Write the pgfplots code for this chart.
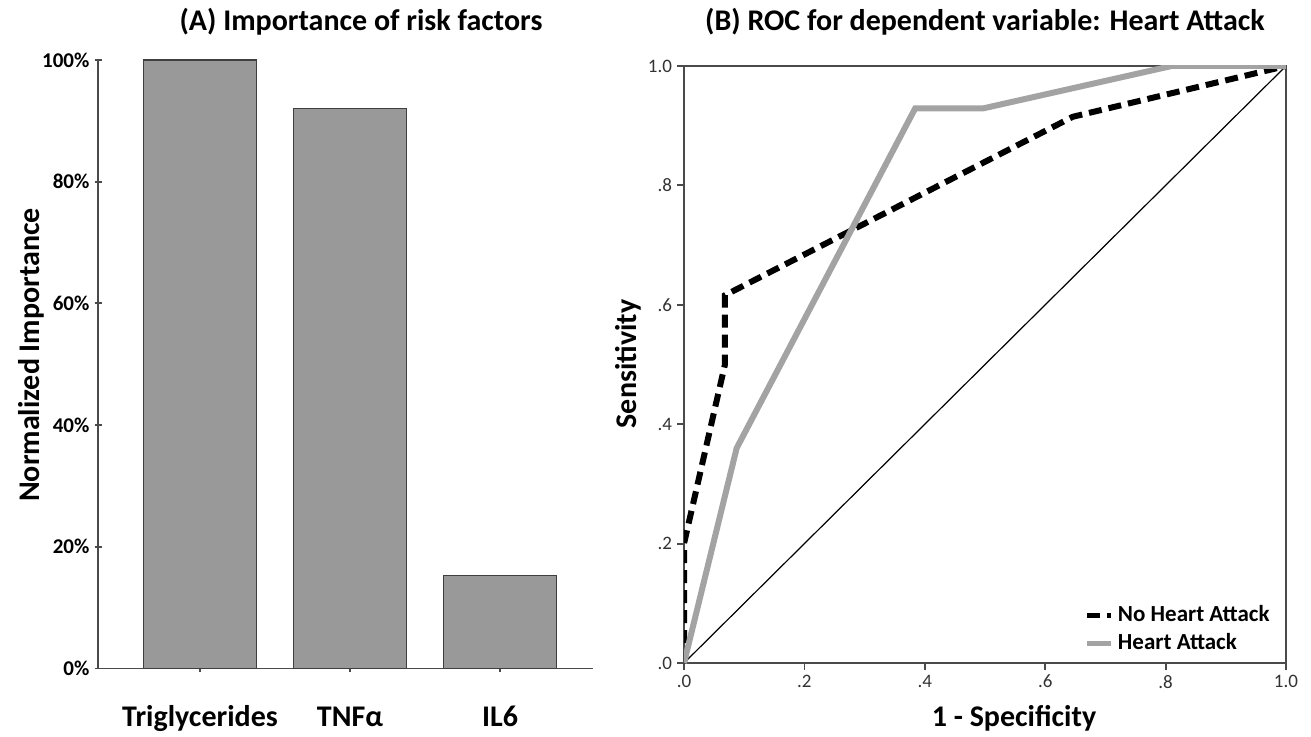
\documentclass[border=0pt]{standalone}
\usepackage{fontspec}
\setmainfont{Carlito}
\usepackage{pgfplots}
\pgfplotsset{compat=1.18}

\definecolor{barfill}{HTML}{999999}
\definecolor{bardraw}{HTML}{3F3F3F}
\definecolor{axisgray}{HTML}{4A4A4A}
\definecolor{rocgray}{HTML}{A3A3A3}
\definecolor{ticktext}{HTML}{333333}

% 1 px of the reference = 0.5pt
\begin{document}
\begin{tikzpicture}
\pgfplotsset{
  every axis/.append style={
    scale only axis,
    tick align=outside,
    major tick length=3.5pt,
    tick style={draw=axisgray, line width=0.9pt},
    /pgf/number format/assume math mode=true,
  },
}

% (A) bar chart
\begin{axis}[
  at={(49pt,-334.25pt)}, anchor=south west,
  width=247.5pt, height=304.25pt,
  xmin=-0.68, xmax=2.62, ymin=0, ymax=100,
  axis x line=bottom, axis y line=left,
  axis line style={-, draw=axisgray, line width=0.9pt},
  xtick={0,1,2},
  xticklabels={Triglycerides, TNFα, IL6},
  ytick={0,20,40,60,80,100},
  yticklabels={0\%,20\%,40\%,60\%,80\%,100\%},
  xticklabel style={font=\fontsize{15}{18}\selectfont\bfseries,
    text height=11pt, text depth=3pt, yshift=-12.5pt},
  yticklabel style={font=\fontsize{10.5}{12}\selectfont\bfseries, xshift=1pt},
]
\addplot[ybar, bar width=56.5pt, fill=barfill, draw=bardraw, line width=0.8pt]
  coordinates {(0,100) (1,92) (2,15.3)};
\end{axis}

% (B) ROC curves
\begin{axis}[
  at={(342pt,-331.5pt)}, anchor=south west,
  width=301pt, height=298.5pt,
  xmin=0, xmax=1, ymin=0, ymax=1,
  axis line style={draw=axisgray, line width=0.9pt},
  xtick pos=bottom, ytick pos=left,
  xtick={0,0.2,0.4,0.6,0.8,1}, xticklabels={.0,.2,.4,.6,.8,1.0},
  ytick={0,0.2,0.4,0.6,0.8,1}, yticklabels={.0,.2,.4,.6,.8,1.0},
  ticklabel style={font=\fontsize{9.5}{10}\selectfont, text=ticktext},
  xticklabel style={yshift=1pt},
  yticklabel style={xshift=1pt},
  legend style={draw=none, fill=none, at={(0.99,0.003)}, anchor=south east,
    font=\fontsize{11.5}{13}\selectfont\bfseries, row sep=0.5pt},
  legend cell align=left,
  legend image code/.code={\draw[#1, line width=2.6pt] (0pt,0pt) -- (12pt,0pt);},
]
\addplot[black, line width=0.6pt, forget plot] coordinates {(0,0) (1,1)};
\addplot[black, line width=3pt, dash pattern=on 6.5pt off 3.5pt]
  coordinates {(0,0) (0,0.2) (0.068,0.5) (0.068,0.616) (0.646,0.915) (1,1)};
\addlegendentry{No Heart Attack}
\addplot[rocgray, line width=3pt]
  coordinates {(0,0) (0.0875,0.36) (0.384,0.929) (0.497,0.929) (0.81,1) (1,1)};
\addlegendentry{Heart Attack}
\end{axis}

\node[font=\fontsize{15}{18}\selectfont\bfseries] at (180.5pt,-11pt) {(A) Importance of risk factors};
\node[font=\fontsize{15}{18}\selectfont\bfseries] at (492.5pt,-11pt) {(B) ROC for dependent variable: Heart Attack};
\node[rotate=90, font=\fontsize{15}{18}\selectfont\bfseries] at (15.5pt,-177.5pt) {Normalized Importance};
\node[rotate=90, font=\fontsize{15}{18}\selectfont\bfseries] at (314pt,-182pt) {Sensitivity};
\node[font=\fontsize{15}{18}\selectfont\bfseries] at (507pt,-359pt) {1 - Specificity};

\pgfresetboundingbox
\path[use as bounding box] (0pt,0pt) rectangle (655.5pt,-368.5pt);
\end{tikzpicture}
\end{document}
